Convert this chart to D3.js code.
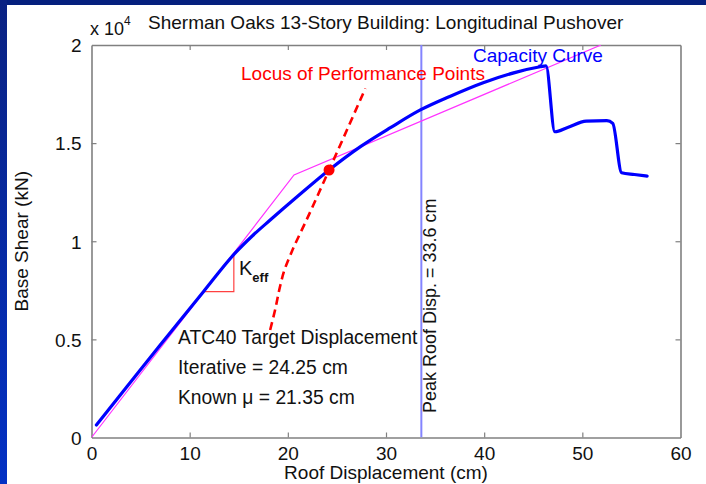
<!DOCTYPE html>
<html><head><meta charset="utf-8">
<script src="https://cdn.jsdelivr.net/npm/d3@7"></script>
<style>
html,body{margin:0;padding:0;background:#fff;}
svg{display:block;font-family:"Liberation Sans",Arial,Helvetica,sans-serif;}
</style></head>
<body>
<svg id="chart" width="706" height="484"></svg>
<script>
// ---- data ----
const capX = [0.5, 3.5, 7, 11.4, 14.6, 16.4, 18.2, 21, 24.2, 27.4, 30.5, 33.5, 36.5, 39.9, 43.3, 45.7, 46.3, 47.2, 48.5, 50.4, 52.5, 53.1, 54.0, 55.3, 56.6];
const capY = [640, 2520, 4710, 7430, 9380, 10280, 11080, 12290, 13630, 14820, 15800, 16690, 17380, 18080, 18620, 18890, 18940, 15580, 15800, 16120, 16150, 16010, 13490, 13400, 13320];
const biX = [0, 20.63, 51.9];
const biY = [0, 13380, 20000];
const locusX = [18.2, 18.7, 19.2, 19.6, 20.4, 21.9, 24.2, 27.9];
const locusY = [5480, 6500, 7680, 8450, 9470, 11080, 13630, 17790];
const keffX = [11.4, 14.5, 14.5];
const keffY = [7430, 7430, 9390];
const perfPoint = [24.2, 13630];
const peakDisp = 33.6;
const xTicks = [0, 10, 20, 30, 40, 50, 60];
const yTicks = [0, 5000, 10000, 15000, 20000];
const yTickLabels = ["0", "0.5", "1", "1.5", "2"];

const svg = d3.select("#chart");

// slide background pieces
const defs = svg.append("defs");
const grad = defs.append("linearGradient").attr("id","lg").attr("x1",0).attr("y1",0).attr("x2",0).attr("y2",1);
grad.append("stop").attr("offset","0%").attr("stop-color","#0a2282");
grad.append("stop").attr("offset","100%").attr("stop-color","#0331c4");
svg.append("rect").attr("x",0).attr("y",0).attr("width",706).attr("height",5).attr("fill","#05207e");
svg.append("rect").attr("x",0).attr("y",0).attr("width",7).attr("height",484).attr("fill","url(#lg)");

const L = 91.5, R = 680.5, T = 45, B = 437.5;
const x = d3.scaleLinear().domain([0, 60]).range([L, R]);
const y = d3.scaleLinear().domain([0, 20000]).range([B, T]);

defs.append("clipPath").attr("id","clip").append("rect")
  .attr("x",L).attr("y",T).attr("width",R-L).attr("height",B-T);

const axisColor = "#808080";
const fs = 19;

// axes (MATLAB box with inward ticks)
const xb = svg.append("g").attr("transform",`translate(0,${B})`)
  .call(d3.axisBottom(x).tickValues(xTicks).tickSizeInner(-5).tickSizeOuter(0).tickPadding(9).tickFormat(d3.format("d")));
const xt = svg.append("g").attr("transform",`translate(0,${T})`)
  .call(d3.axisTop(x).tickValues(xTicks).tickSizeInner(-5).tickSizeOuter(0).tickFormat(""));
const yl = svg.append("g").attr("transform",`translate(${L},0)`)
  .call(d3.axisLeft(y).tickValues(yTicks).tickSizeInner(-5).tickSizeOuter(0).tickPadding(10).tickFormat((d,i)=>yTickLabels[i]));
const yr = svg.append("g").attr("transform",`translate(${R},0)`)
  .call(d3.axisRight(y).tickValues(yTicks).tickSizeInner(-5).tickSizeOuter(0).tickFormat(""));
[xb,xt,yl,yr].forEach(g=>{
  g.select(".domain").attr("stroke",axisColor).attr("stroke-width",1.6);
  g.selectAll(".tick line").attr("stroke",axisColor).attr("stroke-width",1.2);
  g.selectAll(".tick text").attr("fill","#111").style("font-size",fs+"px").style("font-family","'Liberation Sans',Arial,sans-serif");
});
xb.selectAll(".tick").filter(d=>d===0||d===60).select("line").remove();
xt.selectAll(".tick").filter(d=>d===0||d===60).select("line").remove();
yl.selectAll(".tick").filter(d=>d===0||d===20000).select("line").remove();
yr.selectAll(".tick").filter(d=>d===0||d===20000).select("line").remove();
yl.selectAll(".tick text").attr("dy","0.36em");

// exponent label
const ex = svg.append("text").attr("x",90).attr("y",35).attr("fill","#111").style("font-size","18px");
ex.append("tspan").text("x 10");
ex.append("tspan").attr("dy",-10).style("font-size","12px").text("4");

// title
svg.append("text").attr("x",148).attr("y",29).attr("fill","#111").style("font-size","19px")
  .text("Sherman Oaks 13-Story Building: Longitudinal Pushover");
// axis labels
svg.append("text").attr("x",(L+R)/2).attr("y",479).attr("text-anchor","middle").attr("fill","#111")
  .style("font-size",fs+"px").text("Roof Displacement (cm)");
svg.append("text").attr("transform",`translate(28,${(T+B)/2}) rotate(-90)`).attr("text-anchor","middle").attr("fill","#111")
  .style("font-size",fs+"px").text("Base Shear (kN)");

const plot = svg.append("g").attr("clip-path","url(#clip)");

// peak roof displacement line
plot.append("line").attr("x1",x(peakDisp)).attr("x2",x(peakDisp)).attr("y1",y(0)).attr("y2",y(20000))
  .attr("stroke","#8484ff").attr("stroke-width",2);

// bilinear (magenta)
const bi = biX.map((d,i)=>[d,biY[i]]);
plot.append("path").datum(bi).attr("fill","none").attr("stroke","#ff33ff").attr("stroke-width",1.2)
  .attr("d",d3.line().x(d=>x(d[0])).y(d=>y(d[1])));

// Keff triangle
const kf = keffX.map((d,i)=>[d,keffY[i]]);
plot.append("path").datum(kf).attr("fill","none").attr("stroke","#ff4040").attr("stroke-width",1.2)
  .attr("d",d3.line().x(d=>x(d[0])).y(d=>y(d[1])));

// capacity curve
const cap = capX.map((d,i)=>[d,capY[i]]);
plot.append("path").datum(cap).attr("fill","none").attr("stroke","#0000ff").attr("stroke-width",3.2)
  .attr("stroke-linejoin","round").attr("stroke-linecap","round")
  .attr("d",d3.line().x(d=>x(d[0])).y(d=>y(d[1])).curve(d3.curveMonotoneX));

// locus of performance points
const loc = locusX.map((d,i)=>[d,locusY[i]]);
plot.append("path").datum(loc).attr("fill","none").attr("stroke","#ff0000").attr("stroke-width",2.6)
  .attr("stroke-dasharray","8,5")
  .attr("d",d3.line().x(d=>x(d[0])).y(d=>y(d[1])).curve(d3.curveMonotoneY));

// performance point
plot.append("circle").attr("cx",x(perfPoint[0])).attr("cy",y(perfPoint[1])).attr("r",5.5).attr("fill","#ff0000");

// annotations
svg.append("text").attr("x",473).attr("y",62).attr("fill","#0000ff").style("font-size","19px").text("Capacity Curve");
svg.append("text").attr("x",241).attr("y",80).attr("fill","#ff0000").style("font-size","19px").text("Locus of Performance Points");
const ann = [["ATC40 Target Displacement",344],["Iterative = 24.25 cm",374],["Known \u03bc = 21.35 cm",404]];
ann.forEach(a=>svg.append("text").attr("x",178).attr("y",a[1]).attr("fill","#111").style("font-size","19.3px").text(a[0]));
const kt = svg.append("text").attr("x",239).attr("y",275).attr("fill","#111").style("font-size","20px");
kt.append("tspan").text("K");
kt.append("tspan").attr("dy",7).style("font-size","13px").style("font-weight","bold").text("eff");
svg.append("text").attr("transform","translate(436,413) rotate(-90)").attr("fill","#111").style("font-size","18px")
  .text("Peak Roof Disp. = 33.6 cm");
</script>
</body></html>
